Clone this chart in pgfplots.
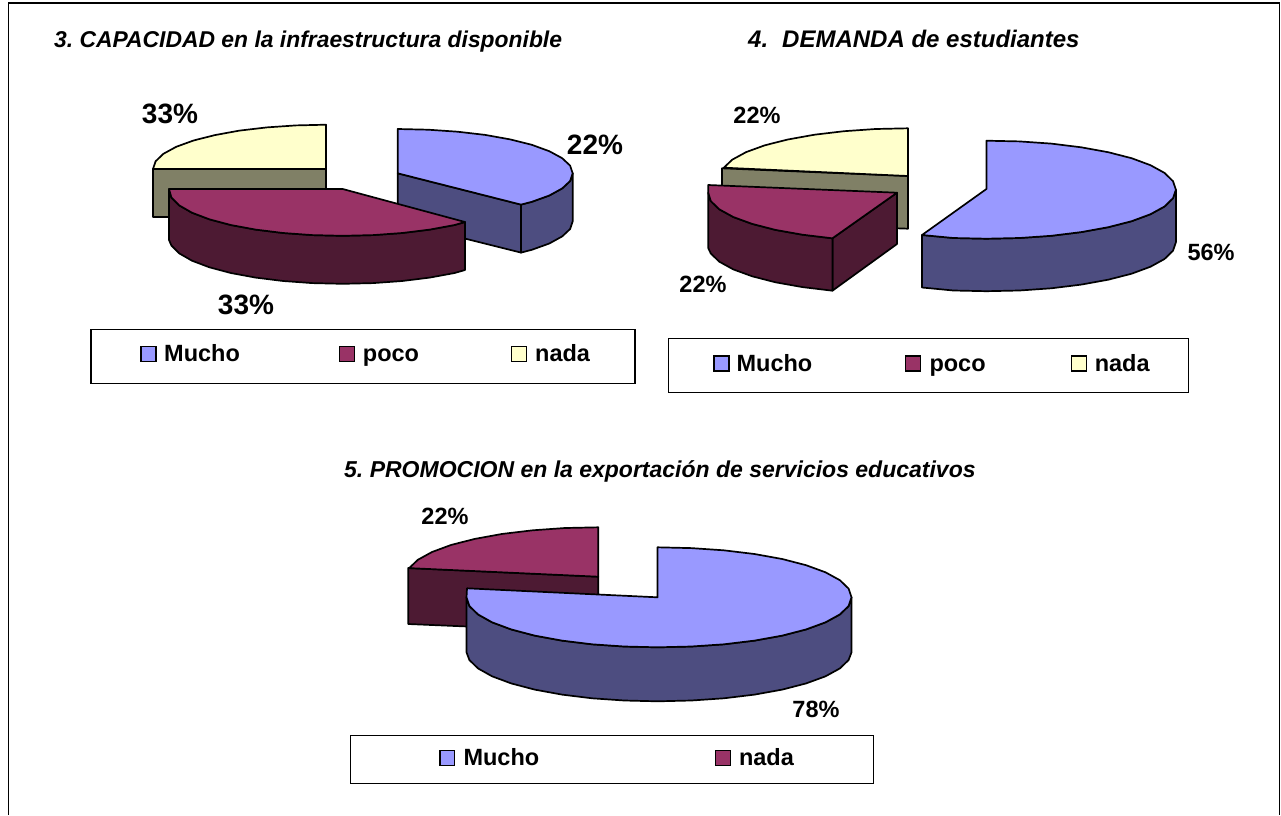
\documentclass[border=0pt]{standalone}
\usepackage{pgfplots}
\pgfplotsset{compat=1.18}
\usepackage{fontspec}
\setmainfont{Liberation Sans}
\frenchspacing
\definecolor{blueT}{HTML}{9999FF}
\definecolor{blueS}{HTML}{4D4D80}
\definecolor{marT}{HTML}{993366}
\definecolor{marS}{HTML}{4D1A33}
\definecolor{yelT}{HTML}{FFFFCC}
\definecolor{yelS}{HTML}{808066}
\tikzset{
  ttl/.style={anchor=base west,inner sep=0pt,font=\fontsize{#1}{26}\selectfont\bfseries\itshape},
  bigp/.style={anchor=center,inner sep=0pt,font=\fontsize{28}{32}\selectfont\bfseries},
  smp/.style={anchor=center,inner sep=0pt,font=\fontsize{23.5}{28}\selectfont\bfseries},
  leg/.style={anchor=base west,inner sep=0pt,font=\fontsize{23.5}{28}\selectfont\bfseries}
}
\pgfplotsset{
  pie/.style={draw=black,line width=1.7pt,line join=round,fill=#1,mark=none},
  mk/.style={draw=black,line width=1.5pt,line join=miter,fill=#1,mark=none},
  box/.style={draw=black,line width=1.1pt,fill=white,mark=none}
}
\begin{document}
\begin{tikzpicture}
\begin{axis}[at={(0pt,0pt)},anchor=south west,width=1281pt,height=815pt,scale only axis,
  xmin=0,xmax=1281,ymin=0,ymax=815,y dir=reverse,axis lines=none,clip=true]
\addplot[fill=white,draw=none,mark=none] coordinates {(0,0)(1281,0)(1281,815)(0,815)} --cycle;
% frame
\addplot[draw=black,line width=1.8pt,mark=none] coordinates {(8.5,815)(8.5,3)(1279.5,3)(1279.5,815)};
% ---- chart 3
\addplot[pie=yelS] coordinates {(153,169)(326,169)(326,217.3)(153,217.3)} --cycle;
\addplot[pie=yelT] coordinates {(153,169)(155.6,161.3)(163.4,153.8)(176.2,146.8)(193.5,140.5)(214.8,135.1)(239.5,130.6)(266.8,127.4)(295.9,125.4)(326,124.7)(326,169)} --cycle;
\addplot[pie=blueS] coordinates {(397.7,173.3)(521,204.6)(521,252.6)(397.7,221.7)} --cycle;
\addplot[pie=blueS] coordinates {(521,204.6)(531.8,201.8)(549.3,195.5)(562.2,188.4)(570.1,181)(572.7,173.3)(572.7,221.3)(570.1,229)(562.2,236.4)(549.3,243.5)(531.8,249.8)(521,252.6)} --cycle;
\addplot[pie=blueT] coordinates {(397.7,129)(428.2,129.7)(457.6,131.7)(485.2,134.9)(510.2,139.4)(531.8,144.8)(549.3,151.2)(562.2,158.2)(570.1,165.6)(572.7,173.3)(570.1,181)(562.2,188.4)(549.3,195.5)(531.8,201.8)(521,204.6)(397.7,173.3)} --cycle;
\addplot[pie=marS] coordinates {(169,189)(171.4,197.5)(179.1,205.3)(192,212.7)(209.4,219.3)(230.8,225)(255.7,229.6)(283.2,233)(312.4,235.1)(342.7,235.8)(373,235.1)(402.2,233)(429.7,229.6)(454.6,225)(465,222)(465,270)(454.6,273)(429.7,277.6)(402.2,281)(373,283.1)(342.7,283.8)(312.4,283.1)(283.2,281)(255.7,277.6)(230.8,273)(209.4,267.3)(192,260.7)(179.1,253.3)(171.4,245.5)(169,240)} --cycle;
\addplot[pie=marT] coordinates {(169,189)(342.7,189)(465,222)(454.6,225)(429.7,229.6)(402.2,233)(373,235.1)(342.7,235.8)(312.4,235.1)(283.2,233)(255.7,229.6)(230.8,225)(209.4,219.3)(192,212.7)(179.1,205.3)(171.4,197.5)} --cycle;
% legend 3
\addplot[box] coordinates {(91,329.3)(635,329.3)(635,383.3)(91,383.3)} --cycle;
\addplot[mk=blueT] coordinates {(141,346.7)(156,346.7)(156,361.7)(141,361.7)} --cycle;
\addplot[mk=marT] coordinates {(339.3,346.7)(354.3,346.7)(354.3,361.7)(339.3,361.7)} --cycle;
\addplot[mk=yelT] coordinates {(511.7,346.7)(526.7,346.7)(526.7,361.7)(511.7,361.7)} --cycle;
% ---- chart 4
\addplot[pie=yelS] coordinates {(722,168.3)(908,176)(908,228.7)(722,222)} --cycle;
\addplot[pie=yelT] coordinates {(723.8,167.7)(732.2,159.7)(746.1,152.1)(764.8,145.3)(787.8,139.5)(814.5,134.7)(844,131.2)(875.5,129)(908,128.3)(908,176)} --cycle;
\addplot[pie=marS] coordinates {(832.4,238.3)(897,192.7)(897,244)(832.4,290.7)} --cycle;
\addplot[pie=marS] coordinates {(708.2,192.7)(710.8,201.1)(719.3,209.3)(733.3,217)(752.2,223.9)(775.5,229.9)(802.5,234.7)(832.4,238.3)(832.4,290.7)(802.5,287.1)(775.5,282.3)(752.2,276.3)(733.3,269.4)(719.3,261.7)(710.8,253.5)(708.2,248)} --cycle;
\addplot[pie=marT] coordinates {(708.2,185)(897,192.7)(832.4,238.3)(802.5,234.7)(775.5,229.9)(752.2,223.9)(733.3,217)(719.3,209.3)(710.8,201.1)(708.2,192.7)} --cycle;
\addplot[pie=blueS] coordinates {(1175.9,189.7)(1173,198.2)(1164.5,206.5)(1150.5,214.2)(1131.6,221.2)(1108.2,227.2)(1081.2,232.1)(1051.2,235.8)(1019.4,238)(986.4,238.7)(953.4,238)(922,235)(922,287.5)(953.4,290.5)(986.4,291.2)(1019.4,290.5)(1051.2,288.3)(1081.2,284.6)(1108.2,279.7)(1131.6,273.7)(1150.5,266.7)(1164.5,259)(1173,250.7)(1175.9,242.2)} --cycle;
\addplot[pie=blueT] coordinates {(986.4,140.7)(1019.4,141.4)(1051.2,143.6)(1081.2,147.3)(1108.2,152.2)(1131.6,158.2)(1150.5,165.2)(1164.5,172.9)(1173,181.2)(1175.9,189.7)(1173,198.2)(1164.5,206.5)(1150.5,214.2)(1131.6,221.2)(1108.2,227.2)(1081.2,232.1)(1051.2,235.8)(1019.4,238)(986.4,238.7)(953.4,238)(922,235)(986.4,189)} --cycle;
% legend 4
\addplot[box] coordinates {(668.6,338.3)(1188.6,338.3)(1188.6,392.3)(668.6,392.3)} --cycle;
\addplot[mk=blueT] coordinates {(714,356)(729,356)(729,371)(714,371)} --cycle;
\addplot[mk=marT] coordinates {(905.5,356)(920.5,356)(920.5,371)(905.5,371)} --cycle;
\addplot[mk=yelT] coordinates {(1071.5,356)(1086.5,356)(1086.5,371)(1071.5,371)} --cycle;
% ---- chart 5
\addplot[pie=marS] coordinates {(408.2,568)(598.3,576.7)(598.3,632)(408.2,624)} --cycle;
\addplot[pie=marT] coordinates {(409.2,568.1)(417.8,559.8)(432,552)(451.2,544.9)(474.8,538.9)(502.3,533.9)(532.6,530.3)(564.9,528)(598.3,527.3)(598.3,576.7)} --cycle;
\addplot[pie=blueS] coordinates {(466.5,597.3)(469.4,606)(478,614.4)(492.1,622.3)(511.2,629.4)(534.7,635.6)(562,640.6)(592.2,644.3)(624.3,646.5)(657.5,647.3)(691.3,646.5)(723.8,644.3)(754.5,640.6)(782.2,635.6)(806.1,629.4)(825.5,622.3)(839.9,614.4)(848.6,606)(851.5,597.3)(851.5,652.3)(848.6,660)(839.9,668.4)(825.5,676.3)(806.1,683.4)(782.2,689.6)(754.5,694.6)(723.8,698.3)(691.3,700.5)(657.5,701.3)(624.3,700.5)(592.2,698.3)(562,694.6)(534.7,689.6)(511.2,683.4)(492.1,676.3)(478,668.4)(469.4,660)(466.5,652.3)} --cycle;
\addplot[pie=blueT] coordinates {(657.5,547.3)(691.3,548.1)(723.8,550.3)(754.5,554)(782.2,559)(806.1,565.2)(825.5,572.3)(839.9,580.2)(848.6,588.6)(851.5,597.3)(848.6,606)(839.9,614.4)(825.5,622.3)(806.1,629.4)(782.2,635.6)(754.5,640.6)(723.8,644.3)(691.3,646.5)(657.5,647.3)(624.3,646.5)(592.2,644.3)(562,640.6)(534.7,635.6)(511.2,629.4)(492.1,622.3)(478,614.4)(469.4,606)(466.5,597.3)(467,588.3)(657.5,597.3)} --cycle;
% legend 5
\addplot[box] coordinates {(350.3,735.3)(873.8,735.3)(873.8,783.3)(350.3,783.3)} --cycle;
\addplot[mk=blueT] coordinates {(439.9,750.7)(454.7,750.7)(454.7,765.3)(439.9,765.3)} --cycle;
\addplot[mk=marT] coordinates {(715.3,750.7)(730.5,750.7)(730.5,765.3)(715.3,765.3)} --cycle;
% texts
\node[ttl=22.87] at (axis cs:54,47.5) {3. CAPACIDAD en la infraestructura disponible};
\node[ttl=24] at (axis cs:748,47.5) {4.\hspace{14pt}DEMANDA de estudiantes};
\node[ttl=23] at (axis cs:344,477.5) {5. PROMOCION en la exportación de servicios educativos};
\node[bigp] at (axis cs:170,114) {33\%};
\node[bigp] at (axis cs:595,145) {22\%};
\node[bigp] at (axis cs:246,305) {33\%};
\node[smp] at (axis cs:757,115) {22\%};
\node[smp] at (axis cs:703,284) {22\%};
\node[smp] at (axis cs:1211,252) {56\%};
\node[smp] at (axis cs:445,516) {22\%};
\node[smp] at (axis cs:816,709) {78\%};
\node[leg] at (axis cs:164,361.7) {Mucho};
\node[leg] at (axis cs:362.7,361.7) {poco};
\node[leg] at (axis cs:535,361.7) {nada};
\node[leg] at (axis cs:736.4,371) {Mucho};
\node[leg] at (axis cs:929.3,371) {poco};
\node[leg] at (axis cs:1094.6,371) {nada};
\node[leg] at (axis cs:463.3,765) {Mucho};
\node[leg] at (axis cs:738.8,765) {nada};
\end{axis}
\end{tikzpicture}
\end{document}
